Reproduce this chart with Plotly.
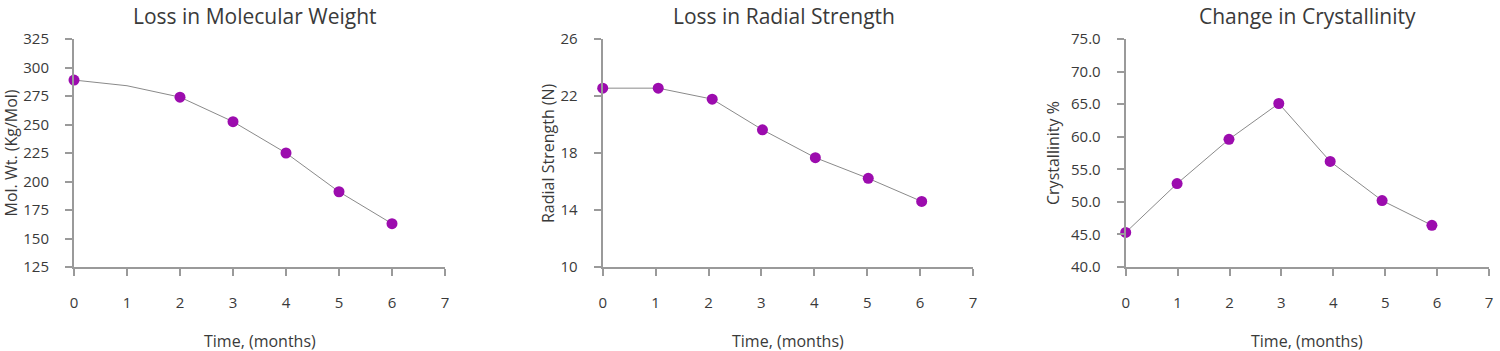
import plotly.graph_objects as go

months_mw = [0, 1, 2, 3, 4, 5, 6]
mol_wt = [289, 284, 274, 252.5, 225, 191, 163]
mw_marker_shown = [1, 0, 1, 1, 1, 1, 1]

months_rs = [0, 1.05, 2.07, 3.02, 4.02, 5.02, 6.03]
radial_strength = [22.55, 22.55, 21.78, 19.63, 17.67, 16.22, 14.6]

months_cr = [0, 0.99, 1.99, 2.95, 3.94, 4.94, 5.9]
crystallinity = [45.3, 52.8, 59.6, 65.1, 56.2, 50.2, 46.4]

titles = ["Loss in Molecular Weight", "Loss in Radial Strength", "Change in Crystallinity"]
y_titles = ["Mol. Wt. (Kg/Mol)", "Radial Strength (N)", "Crystallinity %"]
x_title = "Time, (months)"
x_ticks = [0, 1, 2, 3, 4, 5, 6, 7]

FONT = "Open Sans"
MARK = "#9c0cae"
LINE = "#8a8a8a"
AXIS = "#9a9a9a"
TXT = "#3a3a3a"

domains = [(74 / 1500, 445 / 1500), (602.7 / 1500, 973 / 1500), (1125.7 / 1500, 1489 / 1500)]
yranges = [(125, 325), (10, 26), (40, 75)]
ydticks = [25, 4, 5]
yfmt = ["d", "d", ".1f"]

fig = go.Figure()
series = [(months_mw, mol_wt), (months_rs, radial_strength), (months_cr, crystallinity)]
for i, (xs, ys) in enumerate(series):
    sizes = [11 if (i != 0 or mw_marker_shown[k]) else 0 for k in range(len(xs))]
    fig.add_trace(go.Scatter(
        x=xs, y=ys, mode="lines+markers",
        line=dict(color=LINE, width=1),
        marker=dict(color=MARK, size=sizes, opacity=1, line=dict(width=0)),
        cliponaxis=False, showlegend=False,
        xaxis="x" if i == 0 else f"x{i+1}", yaxis="y" if i == 0 else f"y{i+1}",
    ))

layout = dict(
    width=1500, height=351,
    margin=dict(l=0, r=0, t=39, b=83.5),
    paper_bgcolor="white", plot_bgcolor="white",
    font=dict(family=FONT, color=TXT, size=15),
    annotations=[],
)
for i in range(3):
    xk = "xaxis" if i == 0 else f"xaxis{i+1}"
    yk = "yaxis" if i == 0 else f"yaxis{i+1}"
    ya = "y" if i == 0 else f"y{i+1}"
    xa = "x" if i == 0 else f"x{i+1}"
    layout[xk] = dict(
        domain=list(domains[i]), range=[0, 7], tickmode="array",
        tickvals=x_ticks, ticktext=[str(t) for t in x_ticks], anchor=ya,
        automargin=False, ticklabeloverflow="allow",
        showline=True, linecolor=AXIS, linewidth=2, showgrid=False, zeroline=False,
        ticks="outside", ticklen=7, tickwidth=2, tickcolor=AXIS,
        ticklabelstandoff=14, tickfont=dict(size=15, color=TXT),
    )
    layout[yk] = dict(
        domain=[0, 1], range=list(yranges[i]), dtick=ydticks[i], tick0=yranges[i][0], anchor=xa,
        automargin=False, tickformat=yfmt[i], ticklabeloverflow="allow",
        showline=True, linecolor=AXIS, linewidth=2, showgrid=False, zeroline=False,
        ticks="outside", ticklen=7, tickwidth=2, tickcolor=AXIS,
        ticklabelstandoff=13, tickfont=dict(size=15, color=TXT),
    )
    cx = (domains[i][0] + domains[i][1]) / 2
    tx = [255, 784, 1307][i] / 1500
    layout["annotations"].append(dict(
        text=titles[i], x=tx, y=1, xref="paper", yref="paper",
        xanchor="center", yanchor="top", yshift=39,
        showarrow=False, font=dict(size=21, color=TXT, family=FONT),
    ))
    layout["annotations"].append(dict(
        text=x_title, x=cx, y=0, xref="paper", yref="paper",
        xanchor="center", yanchor="middle", yshift=-(341 - 267.5),
        showarrow=False, font=dict(size=16, color=TXT, family=FONT),
    ))
    ax = [10.5, 548, 1053][i] / 1500
    layout["annotations"].append(dict(
        text=y_titles[i], x=ax, y=0.5, xref="paper", yref="paper",
        xanchor="center", yanchor="middle", textangle=-90,
        showarrow=False, font=dict(size=16, color=TXT, family=FONT),
    ))

fig.update_layout(**layout)
fig.write_html("out.html")
